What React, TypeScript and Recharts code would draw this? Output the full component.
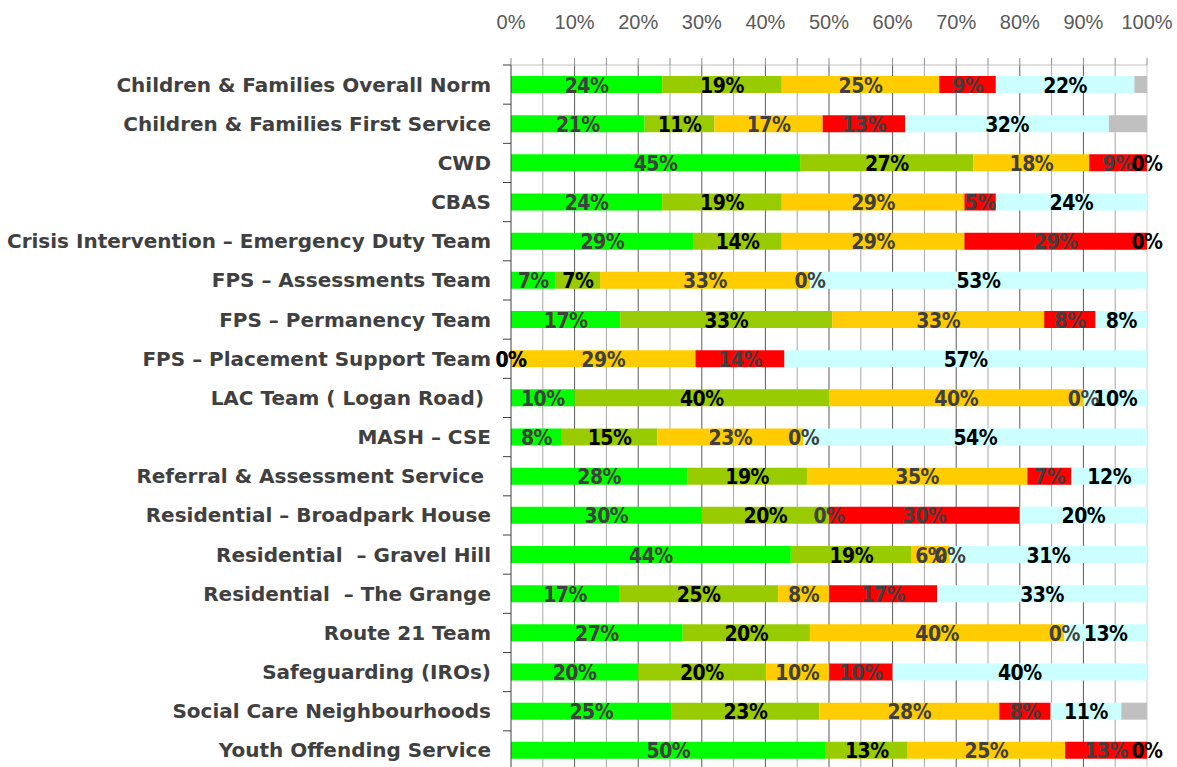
import React from 'react'
import {
  BarChart, Bar, XAxis, YAxis, CartesianGrid, LabelList,
} from 'recharts'

const categories = [
  'Children & Families Overall Norm',
  'Children & Families First Service',
  'CWD',
  'CBAS',
  'Crisis Intervention \u2013 Emergency Duty Team',
  'FPS \u2013 Assessments Team',
  'FPS \u2013 Permanency Team',
  'FPS \u2013 Placement Support Team',
  'LAC Team ( Logan Road) ',
  'MASH \u2013 CSE',
  'Referral & Assessment Service ',
  'Residential \u2013 Broadpark House',
  'Residential  \u2013 Gravel Hill',
  'Residential  \u2013 The Grange',
  'Route 21 Team',
  'Safeguarding (IROs)',
  'Social Care Neighbourhoods',
  'Youth Offending Service',
]

const greenVals = [24, 21, 45, 24, 29, 7, 17, 0, 10, 8, 28, 30, 44, 17, 27, 20, 25, 50]
const oliveVals = [19, 11, 27, 19, 14, 7, 33, 0, 40, 15, 19, 20, 19, 25, 20, 20, 23, 13]
const amberVals = [25, 17, 18, 29, 29, 33, 33, 29, 40, 23, 35, 0, 6, 8, 40, 10, 28, 25]
const redVals = [9, 13, 9, 5, 29, 0, 8, 14, 0, 0, 7, 30, 0, 17, 0, 10, 8, 13]
const cyanVals = [22, 32, 0, 24, 0, 53, 8, 57, 10, 54, 12, 20, 31, 33, 13, 40, 11, 0]
const greyVals = [2, 6, 0, 0, 0, 0, 0, 0, 0, 0, 0, 0, 0, 0, 0, 0, 4, 0]

const axisTicks = [0, 0.05, 0.1, 0.15, 0.2, 0.25, 0.3, 0.35, 0.4, 0.45, 0.5, 0.55, 0.6, 0.65, 0.7, 0.75, 0.8, 0.85, 0.9, 0.95, 1]
const majorGrid = [0.1, 0.2, 0.3, 0.4, 0.5, 0.6, 0.7, 0.8, 0.9]
const minorGrid = [0.05, 0.15, 0.25, 0.35, 0.45, 0.55, 0.65, 0.75, 0.85, 0.95]
const edgeGrid = [1]

const data = categories.map((name, i) => ({
  name,
  green: greenVals[i],
  olive: oliveVals[i],
  amber: amberVals[i],
  red: redVals[i],
  cyan: cyanVals[i],
  grey: greyVals[i],
}))

const CHART_W = 1177
const CHART_H = 770
const AXIS_X  = 511
const TOP_H   = 65
const BAND    = (CHART_H - TOP_H) / categories.length

const AXIS_FONT  = '"Liberation Sans", Arial, sans-serif'
const CAT_FONT   = '"DejaVu Sans", sans-serif'
const LABEL_FONT = '"DejaVu Sans Condensed", "DejaVu Sans", sans-serif'

const CategoryTick = ({ y, payload }: any) => (
  <g>
    <line x1={AXIS_X - 8} x2={AXIS_X} y1={y - BAND / 2} y2={y - BAND / 2} stroke="#404040" />
    <text
      x={AXIS_X - 20} y={y} textAnchor="end" dominantBaseline="central"
      fill="#404040" fontSize={20} fontWeight="bold" fontFamily={CAT_FONT}
      style={{ whiteSpace: 'pre' }}
    >
      {payload.value}
    </text>
  </g>
)

// row is found from the bar's position, so zero-width bars keep the right value
const makeLabel = (vals: number[], color: string) => (props: any) => {
  const x = Number(props.x), y = Number(props.y)
  const w = Number(props.width) || 0, h = Number(props.height) || 0
  const row = Math.floor((y + h / 2 - TOP_H) / BAND)
  if (row < 0 || row >= vals.length) return null
  return (
    <text
      x={x + w / 2} y={y + h / 2 + 1} textAnchor="middle" dominantBaseline="central"
      fill={color} fontSize={21} fontWeight="bold" fontFamily={LABEL_FONT} letterSpacing={-0.5}
    >
      {vals[row]}%
    </text>
  )
}

export default function App() {
  return (
    <div style={{ position: 'absolute', left: 0, top: 0, background: '#fff' }}>
      <BarChart
        width={CHART_W} height={CHART_H} data={data} layout="vertical"
        stackOffset="expand" barSize={17}
        margin={{ top: 0, right: 30, left: 0, bottom: 0 }}
      >
        <CartesianGrid horizontal={false} verticalValues={minorGrid} stroke="#a6a6a6" />
        <CartesianGrid horizontal={false} verticalValues={majorGrid} stroke="#5a5a5a" />
        <CartesianGrid horizontal={false} verticalValues={edgeGrid} stroke="#cccccc" />
        <XAxis
          type="number" orientation="top" domain={[0, 1]} ticks={axisTicks}
          interval={0} height={TOP_H} tickSize={7} tickMargin={29}
          tickFormatter={(v: number) => (Math.round(v * 100) % 10 === 0 ? `${Math.round(v * 100)}%` : '')}
          axisLine={{ stroke: '#c0c0c0' }} tickLine={{ stroke: '#8c8c8c' }}
          tick={{ fill: '#595959', fontSize: 20, fontFamily: AXIS_FONT }}
        />
        <YAxis
          type="category" dataKey="name" width={AXIS_X} interval={0}
          axisLine={{ stroke: '#404040' }} tickLine={false}
          tick={<CategoryTick />}
        />
        <Bar dataKey="green" stackId="a" fill="#00ff00" minPointSize={0.01} isAnimationActive={false}>
          <LabelList dataKey="green" content={makeLabel(greenVals, '#404040')} />
        </Bar>
        <Bar dataKey="olive" stackId="a" fill="#99cc00" minPointSize={0.01} isAnimationActive={false}>
          <LabelList dataKey="olive" content={makeLabel(oliveVals, '#000000')} />
        </Bar>
        <Bar dataKey="amber" stackId="a" fill="#ffcc00" minPointSize={0.01} isAnimationActive={false}>
          <LabelList dataKey="amber" content={makeLabel(amberVals, '#404040')} />
        </Bar>
        <Bar dataKey="red" stackId="a" fill="#ff0000" minPointSize={0.01} isAnimationActive={false}>
          <LabelList dataKey="red" content={makeLabel(redVals, '#404040')} />
        </Bar>
        <Bar dataKey="cyan" stackId="a" fill="#ccffff" minPointSize={0.01} isAnimationActive={false}>
          <LabelList dataKey="cyan" content={makeLabel(cyanVals, '#000000')} />
        </Bar>
        <Bar dataKey="grey" stackId="a" fill="#c0c0c0" isAnimationActive={false} />
      </BarChart>
    </div>
  )
}
